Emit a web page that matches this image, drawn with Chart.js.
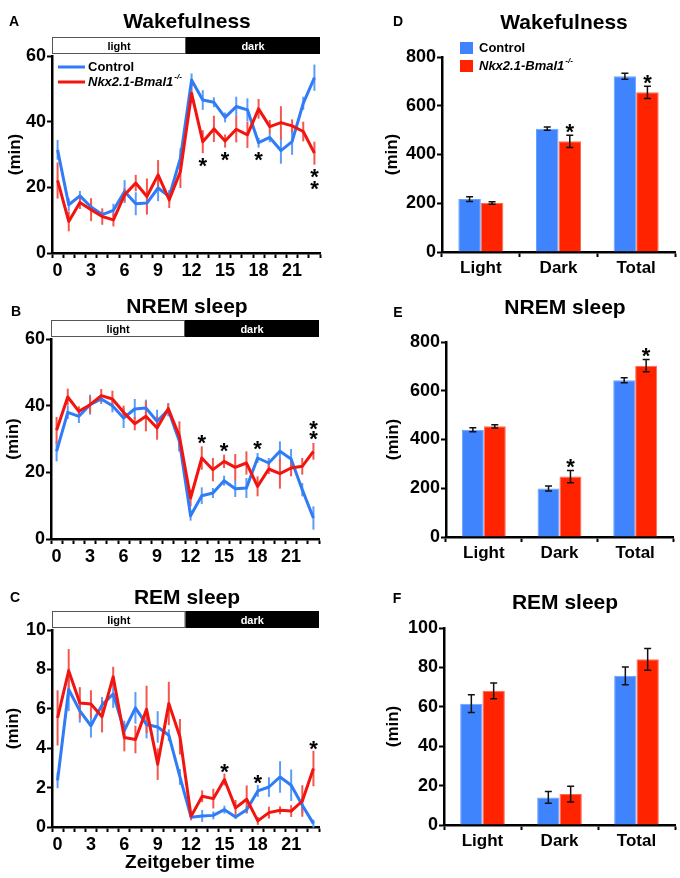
<!DOCTYPE html>
<html><head><meta charset="utf-8">
<script src="https://cdn.jsdelivr.net/npm/chart.js@4.4.1/dist/chart.umd.min.js"></script>
<style>
html,body{margin:0;padding:0;background:#fff;}
#wrap{position:relative;width:680px;height:878px;overflow:hidden;}
canvas{position:absolute;}
</style></head><body>
<div id="wrap">
<canvas id="cA" width="340" height="290" style="left:0;top:0"></canvas>
<canvas id="cB" width="340" height="290" style="left:0;top:290px"></canvas>
<canvas id="cC" width="340" height="298" style="left:0;top:580px"></canvas>
<canvas id="cD" width="340" height="290" style="left:340px;top:0"></canvas>
<canvas id="cE" width="340" height="290" style="left:340px;top:290px"></canvas>
<canvas id="cF" width="340" height="298" style="left:340px;top:580px"></canvas>
</div>
<script>
// ---------- data ----------
const hours = [0,1,2,3,4,5,6,7,8,9,10,11,12,13,14,15,16,17,18,19,20,21,22,23];
const xTickLabels = [0,3,6,9,12,15,18,21];
const phaseBounds = [-0.5, 11.5, 23.5];
const phaseNames = ['light', 'dark'];
const seriesNames = ['Control', 'Nkx2.1-Bmal1'];
const koSuperscript = '-/-';

const wakeCtrl    = [31.4,14.7,17.4,14.0,11.7,13.0,18.7,15.0,15.2,19.8,17.2,28.9,52.7,46.6,45.9,41.3,44.6,43.6,33.6,35.2,31.2,33.9,45.6,53.4];
const wakeCtrlErr = [3,2,1.5,1.5,1,2,3.5,3.5,3,4,2,3,2,3,1.5,1.5,3,3.5,1.5,1.5,4,4,2,4];
const wakeKO      = [22.1,9.6,15.4,13.2,11.1,10.1,17.7,21.3,17.2,23.8,16.2,24.8,48.6,33.9,37.8,34.1,37.7,36.0,43.9,38.5,39.7,38.7,37.0,30.4];
const wakeKOErr   = [5.5,3,2,3.5,2.5,2,2,2.5,5.5,4.5,2.5,5,3,3.5,4,2,4,4,3,2,5,2,3,3.5];
const wakeSigHours = [13,15,18,23];
const wakeSigCount = [1,1,1,2];

const nremCtrl    = [26.3,38.0,36.8,40.3,42.0,40.0,36.3,39.0,39.3,35.3,38.8,29.3,7.0,13.0,13.8,17.5,15.1,15.3,24.3,22.8,26.3,24.0,14.8,6.3];
const nremCtrlErr = [3,2,2,3,1.5,2,3,3,2.5,3.5,2,3,1.5,2.5,1.5,1.5,2.5,3,1.5,1.5,3,3,2,3.5];
const nremKO      = [32.6,42.6,38.3,40.3,43.0,42.0,38.0,34.6,36.8,33.3,39.1,30.8,12.3,24.3,20.8,23.3,21.5,22.8,15.8,21.0,19.6,21.3,21.8,26.3];
const nremKOErr   = [4,2.5,1.5,2.5,2,2.5,2,2,4.5,3.5,1.5,4.5,2.5,3.5,3.5,2,4,3.5,3,1.5,4.5,2.5,2.5,2.5];
const nremSigHours = [13,15,18,23];
const nremSigCount = [1,1,1,2];

const remCtrl    = [2.37,6.98,5.9,5.14,6.2,6.75,4.9,6.05,5.2,5.08,4.66,2.54,0.5,0.56,0.59,0.88,0.51,0.88,1.83,2.03,2.54,2.12,1.1,0.17];
const remCtrlErr = [0.4,1.1,0.6,0.6,0.4,0.7,0.5,0.8,0.7,0.8,0.3,0.4,0.1,0.3,0.2,0.2,0.1,0.2,0.3,0.5,0.8,0.8,0.4,0.2];
const remKO      = [5.54,7.93,6.3,6.24,5.6,7.63,4.54,4.44,5.97,3.19,6.27,4.58,0.54,1.56,1.44,2.41,0.97,1.41,0.31,0.73,0.85,0.81,1.32,2.97];
const remKOErr   = [1.4,1.1,0.8,0.7,0.8,0.5,0.7,0.7,1.2,0.8,1.1,0.9,0.2,0.3,0.5,0.3,0.4,0.7,0.2,0.3,0.2,0.3,0.8,0.9];
const remSigHours = [15,18,23];
const remSigCount = [1,1,1];

const yTicksLine = [0,20,40,60];
const yTicksRem  = [0,2,4,6,8,10];
const yTicksBar  = [0,200,400,600,800];
const yTicksRemBar = [0,20,40,60,80,100];

const barCategories = ['Light','Dark','Total'];
const wakeBarCtrl = [217,506,721];
const wakeBarCtrlErr = [10,7,12];
const wakeBarKO = [201,454,655];
const wakeBarKOErr = [5,25,25];
const wakeBarSig = [0,1,1];

const nremBarCtrl = [440,199,643];
const nremBarCtrlErr = [8,10,10];
const nremBarKO = [454,248,703];
const nremBarKOErr = [7,25,25];
const nremBarSig = [0,1,1];

const remBarCtrl = [61.6,14,75.7];
const remBarCtrlErr = [4.5,3,4.5];
const remBarKO = [68.1,15.7,84.1];
const remBarKOErr = [4,4,5.5];
const remBarSig = [0,0,0];

// ---------- styles ----------
const FONT = "'Liberation Sans', Arial, Helvetica, sans-serif";
const fnt = (size, style) => (style || 'bold') + ' ' + size + 'px ' + FONT;
const BLUE = '#2f7cf6', RED = '#f2140f';
const BLUE_ERR = '#5b9cf8', RED_ERR = '#f4574e';
const BLUE_BAR = '#3f84fc', RED_BAR = '#ff2300';

function star(ctx, x, yc) {
  ctx.save();
  ctx.font = fnt(22);
  ctx.fillStyle = '#000';
  ctx.textAlign = 'center';
  ctx.textBaseline = 'alphabetic';
  ctx.fillText('*', x, yc + 12.7);
  ctx.restore();
}

function drawKOLabel(ctx, x, y, size) {
  ctx.save();
  ctx.textAlign = 'left'; ctx.textBaseline = 'middle'; ctx.fillStyle = '#000';
  ctx.font = fnt(size, 'italic bold');
  ctx.fillText(seriesNames[1], x, y);
  const w = ctx.measureText(seriesNames[1]).width;
  ctx.font = fnt(Math.round(size * 0.65), 'italic bold');
  ctx.fillText(koSuperscript, x + w + 1, y - size * 0.38);
  ctx.restore();
}

const errBars = {
  id: 'errBars',
  beforeDatasetsDraw(chart) { const o = chart.options.plugins.errBars; if (o && o.mode === 'line') drawErr(chart, o); },
  afterDatasetsDraw(chart) { const o = chart.options.plugins.errBars; if (o && o.mode === 'bar') drawErr(chart, o); }
};
function drawErr(chart, o) {
  const ctx = chart.ctx, ys = chart.scales.y;
  ctx.save();
  chart.data.datasets.forEach((ds, di) => {
    const meta = chart.getDatasetMeta(di);
    meta.data.forEach((el, i) => {
      const d = ds.data[i];
      const v = (typeof d === 'object') ? d.y : d;
      const e = ds.errors[i];
      const x = el.x;
      const yt = ys.getPixelForValue(v + e), yb = ys.getPixelForValue(v - e);
      ctx.beginPath();
      if (o.mode === 'line') {
        ctx.strokeStyle = ds.errColor; ctx.lineWidth = 2;
        ctx.moveTo(x, yt); ctx.lineTo(x, yb);
      } else {
        ctx.strokeStyle = '#111'; ctx.lineWidth = 1.5;
        ctx.moveTo(x, yt); ctx.lineTo(x, yb);
        ctx.moveTo(x - 3.5, yt); ctx.lineTo(x + 3.5, yt);
        ctx.moveTo(x - 3.5, yb); ctx.lineTo(x + 3.5, yb);
      }
      ctx.stroke();
    });
  });
  ctx.restore();
}

const decor = {
  id: 'decor',
  afterDraw(chart) {
    const o = chart.options.plugins.decor; if (!o) return;
    const ctx = chart.ctx, ca = chart.chartArea;
    ctx.save();
    ctx.fillStyle = '#000'; ctx.textAlign = 'center'; ctx.textBaseline = 'middle';
    ctx.font = fnt(21); ctx.fillText(o.title, o.titleX, o.titleY);
    ctx.font = fnt(14); ctx.fillText(o.letter, o.letterX, o.letterY);
    ctx.save();
    ctx.translate(o.yTitleX, (ca.top + ca.bottom) / 2); ctx.rotate(-Math.PI / 2);
    ctx.font = fnt(17); ctx.fillText('(min)', 0, 0);
    ctx.restore();
    if (o.xTitle) { ctx.font = fnt(19); ctx.fillText(o.xTitle, o.xTitleX, o.xTitleY); }

    if (o.phaseBar) {
      const xs = chart.scales.x;
      const x0 = xs.getPixelForValue(phaseBounds[0]), x1 = xs.getPixelForValue(phaseBounds[1]), x2 = xs.getPixelForValue(phaseBounds[2]);
      const h = 17, yt = ca.top - 2 - h;
      ctx.fillStyle = '#fff'; ctx.fillRect(x0, yt, x1 - x0, h);
      ctx.strokeStyle = '#555'; ctx.lineWidth = 1; ctx.strokeRect(x0 + 0.5, yt + 0.5, x1 - x0 - 1, h - 1);
      ctx.fillStyle = '#000'; ctx.fillRect(x1, yt, x2 - x1, h);
      ctx.font = fnt(11);
      ctx.fillStyle = '#000'; ctx.fillText(phaseNames[0], (x0 + x1) / 2, yt + h / 2 + 1);
      ctx.fillStyle = '#fff'; ctx.fillText(phaseNames[1], (x1 + x2) / 2, yt + h / 2 + 1);
    }

    if (o.lineLegend) {
      const lx = ca.left + 6, ly = ca.top + 11;
      [BLUE, RED].forEach((c, i) => {
        const y = ly + i * 15;
        ctx.strokeStyle = c; ctx.lineWidth = 3;
        ctx.beginPath(); ctx.moveTo(lx, y); ctx.lineTo(lx + 27, y); ctx.stroke();
      });
      ctx.fillStyle = '#000'; ctx.textAlign = 'left'; ctx.font = fnt(13);
      ctx.fillText(seriesNames[0], lx + 30, ly);
      drawKOLabel(ctx, lx + 30, ly + 15, 13);
    }
    if (o.barLegend) {
      const lx = ca.left + 18, ly = ca.top - 15;
      [BLUE_BAR, RED_BAR].forEach((c, i) => {
        ctx.fillStyle = c; ctx.fillRect(lx, ly + i * 18, 13, 12);
      });
      ctx.fillStyle = '#000'; ctx.textAlign = 'left'; ctx.font = fnt(13);
      ctx.fillText(seriesNames[0], lx + 19, ly + 6);
      drawKOLabel(ctx, lx + 19, ly + 24, 13);
    }

    if (o.sig && o.sig.hours) {
      const xs = chart.scales.x, ys = chart.scales.y;
      const dsets = chart.data.datasets;
      o.sig.hours.forEach((h, k) => {
        const i = hours.indexOf(h);
        const x = xs.getPixelForValue(h);
        const n = o.sig.counts[k];
        if (o.sig.dir === 'below') {
          const lo = Math.min(...dsets.map(d => d.data[i].y - d.errors[i]));
          const y0 = ys.getPixelForValue(lo);
          for (let j = 0; j < n; j++) star(ctx, x, y0 + o.sig.offset + j * 11.5);
        } else {
          const hi = Math.max(...dsets.map(d => d.data[i].y + d.errors[i]));
          const y0 = ys.getPixelForValue(hi);
          for (let j = 0; j < n; j++) star(ctx, x, y0 - o.sig.offset - j * 10);
        }
      });
    }
    if (o.barSig) {
      const ys = chart.scales.y;
      const ds = chart.data.datasets[1];
      const meta = chart.getDatasetMeta(1);
      o.barSig.forEach((s, i) => {
        if (!s) return;
        const y0 = ys.getPixelForValue(ds.data[i] + ds.errors[i]);
        star(ctx, meta.data[i].x, y0 - 9);
      });
    }
    ctx.restore();
  }
};

function axisY(ticksArr, yWidth) {
  return {
    min: ticksArr[0], max: ticksArr[ticksArr.length - 1],
    afterBuildTicks: s => { s.ticks = ticksArr.map(v => ({ value: v })); },
    ticks: { font: { family: FONT, size: 18, weight: 'bold' }, color: '#000', padding: 1, autoSkip: false },
    grid: { drawOnChartArea: false, drawTicks: true, tickLength: 5, tickWidth: 2, tickColor: '#000' },
    border: { color: '#000', width: 2.5 },
    afterFit: s => { s.width = yWidth; }
  };
}

function lineChart(id, p) {
  const mk = (arr) => hours.map((h, i) => ({ x: h, y: arr[i] }));
  new Chart(document.getElementById(id), {
    type: 'line',
    data: {
      datasets: [
        { label: seriesNames[0], data: mk(p.ctrl), errors: p.ctrlErr, errColor: BLUE_ERR, borderColor: BLUE, borderWidth: 3, pointRadius: 0, tension: 0, borderJoinStyle: 'round', order: 1 },
        { label: seriesNames[1], data: mk(p.ko), errors: p.koErr, errColor: RED_ERR, borderColor: RED, borderWidth: 3, pointRadius: 0, tension: 0, borderJoinStyle: 'round', order: 0 }
      ]
    },
    options: {
      responsive: false, animation: false,
      layout: { padding: { top: p.padTop, left: 0, right: p.padRight, bottom: 0 } },
      plugins: {
        legend: { display: false }, tooltip: { enabled: false },
        errBars: { mode: 'line' },
        decor: p.decor
      },
      scales: {
        x: {
          type: 'linear', min: phaseBounds[0], max: phaseBounds[2],
          afterBuildTicks: s => { const t = []; for (let v = phaseBounds[0]; v <= phaseBounds[2]; v += 0.5) t.push({ value: v }); s.ticks = t; },
          ticks: { autoSkip: false, maxRotation: 0, padding: 2, color: '#000', font: { family: FONT, size: 18, weight: 'bold' },
            callback: v => xTickLabels.includes(v) ? String(v) : '' },
          grid: { drawOnChartArea: false, drawTicks: true, tickLength: 5, tickWidth: 2,
            tickColor: c => (c.tick && !Number.isInteger(c.tick.value)) ? '#000' : 'rgba(0,0,0,0)' },
          border: { color: '#000', width: 2.5 },
          afterFit: s => { s.height = p.xHeight; }
        },
        y: axisY(p.yTicks, p.yWidth)
      }
    },
    plugins: [errBars, decor]
  });
}

function barChart(id, p) {
  new Chart(document.getElementById(id), {
    type: 'bar',
    data: {
      labels: barCategories,
      datasets: [
        { label: seriesNames[0], data: p.ctrl, errors: p.ctrlErr, backgroundColor: BLUE_BAR, borderColor: '#6aa0ff', borderWidth: 1, categoryPercentage: 0.58, barPercentage: 1.0 },
        { label: seriesNames[1], data: p.ko, errors: p.koErr, backgroundColor: RED_BAR, borderColor: '#ff6a55', borderWidth: 1, categoryPercentage: 0.58, barPercentage: 1.0 }
      ]
    },
    options: {
      responsive: false, animation: false,
      layout: { padding: { top: p.padTop, left: 0, right: p.padRight, bottom: 0 } },
      plugins: {
        legend: { display: false }, tooltip: { enabled: false },
        errBars: { mode: 'bar' },
        decor: p.decor
      },
      scales: {
        x: {
          type: 'category', offset: true,
          ticks: { padding: 1, color: '#000', font: { family: FONT, size: 17, weight: 'bold' } },
          grid: { offset: true, drawOnChartArea: false, drawTicks: true, tickLength: 5, tickWidth: 2, tickColor: '#000' },
          border: { color: '#000', width: 2.5 },
          afterFit: s => { s.height = p.xHeight; }
        },
        y: axisY(p.yTicks, p.yWidth)
      }
    },
    plugins: [errBars, decor]
  });
}

lineChart('cA', { ctrl: wakeCtrl, ctrlErr: wakeCtrlErr, ko: wakeKO, koErr: wakeKOErr, yTicks: yTicksLine,
  padTop: 56, padRight: 20, xHeight: 37, yWidth: 52,
  decor: { title: 'Wakefulness', titleX: 187, titleY: 22, letter: 'A', letterX: 14, letterY: 22, yTitleX: 15,
    phaseBar: true, lineLegend: true, sig: { hours: wakeSigHours, counts: wakeSigCount, dir: 'below', offset: 7 } } });

lineChart('cB', { ctrl: nremCtrl, ctrlErr: nremCtrlErr, ko: nremKO, koErr: nremKOErr, yTicks: yTicksLine,
  padTop: 49, padRight: 21, xHeight: 41, yWidth: 51,
  decor: { title: 'NREM sleep', titleX: 187, titleY: 17, letter: 'B', letterX: 16, letterY: 22, yTitleX: 13,
    phaseBar: true, sig: { hours: nremSigHours, counts: nremSigCount, dir: 'above', offset: 9.5 } } });

lineChart('cC', { ctrl: remCtrl, ctrlErr: remCtrlErr, ko: remKO, koErr: remKOErr, yTicks: yTicksRem,
  padTop: 50, padRight: 21, xHeight: 51, yWidth: 52,
  decor: { title: 'REM sleep', titleX: 187, titleY: 18, letter: 'C', letterX: 15, letterY: 18, yTitleX: 13,
    xTitle: 'Zeitgeber time', xTitleX: 190, xTitleY: 283,
    phaseBar: true, sig: { hours: remSigHours, counts: remSigCount, dir: 'above', offset: 7.5 } } });

barChart('cD', { ctrl: wakeBarCtrl, ctrlErr: wakeBarCtrlErr, ko: wakeBarKO, koErr: wakeBarKOErr, yTicks: yTicksBar,
  padTop: 57, padRight: 5, xHeight: 38, yWidth: 102,
  decor: { title: 'Wakefulness', titleX: 224, titleY: 23, letter: 'D', letterX: 58, letterY: 22, yTitleX: 52,
    barLegend: true, barSig: wakeBarSig } });

barChart('cE', { ctrl: nremBarCtrl, ctrlErr: nremBarCtrlErr, ko: nremBarKO, koErr: nremBarKOErr, yTicks: yTicksBar,
  padTop: 52, padRight: 7, xHeight: 43, yWidth: 106,
  decor: { title: 'NREM sleep', titleX: 225, titleY: 18, letter: 'E', letterX: 58, letterY: 23, yTitleX: 53,
    barSig: nremBarSig } });

barChart('cF', { ctrl: remBarCtrl, ctrlErr: remBarCtrlErr, ko: remBarKO, koErr: remBarKOErr, yTicks: yTicksRemBar,
  padTop: 48, padRight: 5, xHeight: 53, yWidth: 104,
  decor: { title: 'REM sleep', titleX: 225, titleY: 23, letter: 'F', letterX: 57, letterY: 19, yTitleX: 53,
    barSig: remBarSig } });
</script>
</body></html>
